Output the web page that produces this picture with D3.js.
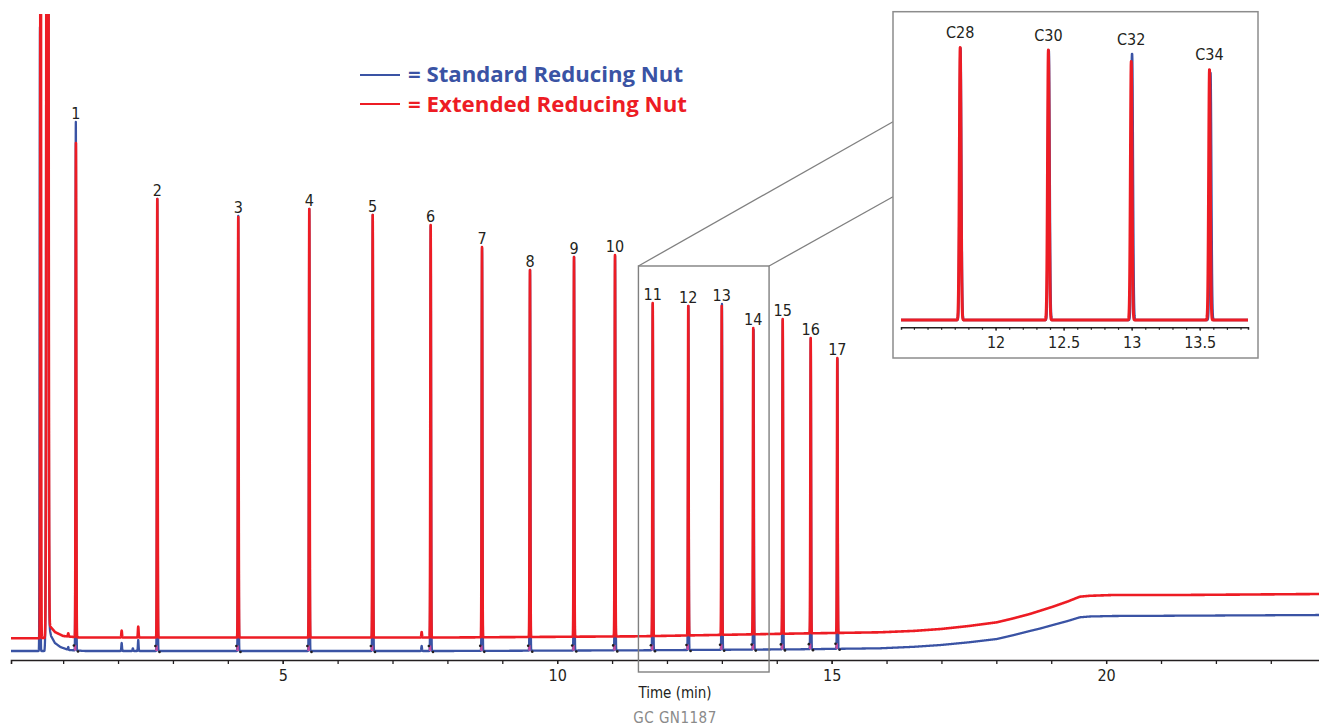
<!DOCTYPE html>
<html><head><meta charset="utf-8">
<script src="https://cdn.jsdelivr.net/npm/d3@7"></script>
<style>body{margin:0;background:#fff} svg{display:block}</style>
</head><body><svg id="c" width="1319" height="726"></svg>
<script>
// ---------------- data ----------------
const peakLabels = ["1","2","3","4","5","6","7","8","9","10","11","12","13","14","15","16","17"];
const redPeakTimes  = [1.233, 2.715, 4.190, 5.484, 6.639, 7.695, 8.630, 9.504, 10.306, 11.053, 11.740, 12.388, 12.997, 13.572, 14.108, 14.618, 15.103];
const bluePeakTimes = [1.231, 2.715, 4.190, 5.484, 6.641, 7.697, 8.632, 9.506, 10.308, 11.055, 11.742, 12.390, 13.002, 13.578, 14.110, 14.620, 15.105];
const redApex  = [51.7, 46.1, 44.3, 45.1, 44.5, 43.5, 41.3, 39.0, 40.3, 40.5, 35.7, 35.4, 35.4, 33.2, 34.1, 32.2, 30.2];
const blueApex = [53.8, 46.1, 44.4, 45.1, 44.5, 43.4, 41.2, 39.0, 40.3, 40.4, 35.6, 35.4, 35.6, 33.0, 34.0, 32.1, 30.1];

const solventTimes     = [0.590, 0.714];
const solventSigma     = [0.006, 0.012];
const redSolventApex   = [120, 300];
const blueSolventApex  = [63.3, 300];
const blueSolventTimes = [0.578, 0.712];

const redMinorTimes  = [1.093, 2.066, 2.368, 7.531];
const redMinorApex   = [2.67, 2.93, 3.33, 2.80];
const blueMinorTimes = [1.093, 2.066, 2.270, 2.368, 7.531];
const blueMinorApex  = [1.30, 1.70, 1.17, 2.00, 1.40];

const redBaseTimes  = [0.05, 0.50, 0.66, 0.76, 0.85, 1.00, 1.30, 5.0, 8.0, 11.5, 14.4, 15.88, 16.5, 16.99, 17.5, 18.01, 18.3, 18.61, 18.8, 19.03, 19.3, 19.52, 19.7, 20.13, 21.35, 23.9];
const redBaseValues = [2.17, 2.17, 2.20, 3.40, 2.80, 2.40, 2.25, 2.25, 2.25, 2.37, 2.65, 2.77, 2.91, 3.10, 3.40, 3.77, 4.15, 4.60, 4.93, 5.33, 5.85, 6.33, 6.42, 6.50, 6.50, 6.60];
const blueBaseTimes  = [0.05, 0.50, 0.66, 0.72, 0.78, 0.85, 0.95, 1.10, 1.40, 8.0, 11.5, 14.4, 15.88, 16.5, 16.99, 17.5, 18.01, 18.3, 18.61, 18.8, 19.03, 19.3, 19.52, 19.7, 20.13, 21.35, 23.9];
const blueBaseValues = [0.90, 0.90, 0.90, 4.00, 2.40, 1.70, 1.30, 1.00, 0.90, 0.90, 0.97, 1.07, 1.17, 1.32, 1.50, 1.77, 2.10, 2.47, 2.90, 3.15, 3.50, 3.90, 4.27, 4.35, 4.40, 4.43, 4.50];

const xMajorTicks = [5, 10, 15, 20];

const insetLabels      = ["C28", "C30", "C32", "C34"];
const insetRedTimes    = [11.740, 12.388, 12.997, 13.572];
const insetBlueTimes   = [11.742, 12.391, 13.003, 13.579];
const insetRedHeights  = [33.3, 33.0, 31.6, 30.6];
const insetBlueHeights = [33.2, 32.9, 32.5, 30.2];
const insetTicks = [12, 12.5, 13, 13.5];

const legendLabels = ["= Standard Reducing Nut", "= Extended Reducing Nut"];

// ---------------- drawing ----------------
const RED = "#ed1c24", BLUE = "#3a53a4", INK = "#231f20";
const svg = d3.select("#c");
const defs = svg.append("defs");

const x = d3.scaleLinear().domain([0.05, 23.9]).range([11, 1320.2]);
const y = d3.scaleLinear().domain([0, 65]).range([660, 10]);

const redBase  = d3.scaleLinear().domain(redBaseTimes).range(redBaseValues).clamp(true);
const blueBase = d3.scaleLinear().domain(blueBaseTimes).range(blueBaseValues).clamp(true);

function buildTrace(base, peaks, t0, t1, step) {
  let ts = d3.range(t0, t1, step);
  peaks.forEach(p => { const w = Math.min(p.s * 8, 0.06); for (let d = -w; d <= w; d += p.s / 6) ts.push(p.t + d); ts.push(p.t); });
  ts.push(t1);
  ts = ts.filter(t => t >= t0 && t <= t1).sort((a, b) => a - b);
  return ts.map(t => {
    let v = base(t);
    peaks.forEach(p => {
      const z = (t - p.t) / p.s;
      if (Math.abs(z) < 9) v += (p.a - base(p.t)) * Math.exp(-0.5 * z * z);
    });
    return [t, v];
  });
}
function peaksOf(times, apex, sig) { return times.map((t, i) => ({ t, a: apex[i], s: Array.isArray(sig) ? sig[i] : sig })); }

const SIG = 0.006;
const bluePeaks = [].concat(peaksOf(bluePeakTimes, blueApex, SIG), peaksOf(blueSolventTimes, blueSolventApex, solventSigma), peaksOf(blueMinorTimes, blueMinorApex, SIG));
const redPeaks  = [].concat(peaksOf(redPeakTimes, redApex, SIG), peaksOf(solventTimes, redSolventApex, solventSigma), peaksOf(redMinorTimes, redMinorApex, SIG));

defs.append("clipPath").attr("id", "mainClip").append("rect").attr("x", 11).attr("y", 14).attr("width", 1310).attr("height", 650);

const line = d3.line().x(d => x(d[0])).y(d => y(d[1])).curve(d3.curveLinear);
const gMain = svg.append("g").attr("clip-path", "url(#mainClip)");
gMain.append("path").attr("d", line(buildTrace(blueBase, bluePeaks, 0.05, 23.9, 0.004)))
  .attr("fill", "none").attr("stroke", BLUE).attr("stroke-width", 2.3).attr("stroke-linejoin", "round");

// integration markers on the blue trace
const mk = gMain.append("g");
bluePeakTimes.forEach(t => {
  const b = blueBase(t);
  mk.append("rect").attr("x", x(t - 0.035)).attr("y", y(b + 0.55)).attr("width", x(t + 0.01) - x(t - 0.035)).attr("height", y(b) - y(b + 0.55))
    .attr("fill", "#c54ca0");
  mk.append("circle").attr("cx", x(t - 0.035)).attr("cy", y(b + 0.5)).attr("r", 1.3).attr("fill", INK);
  mk.append("circle").attr("cx", x(t + 0.04)).attr("cy", y(b - 0.1)).attr("r", 1.3).attr("fill", INK);
});

gMain.append("path").attr("d", line(buildTrace(redBase, redPeaks, 0.05, 23.9, 0.004)))
  .attr("fill", "none").attr("stroke", RED).attr("stroke-width", 2.6).attr("stroke-linejoin", "round");

// main axis
const fontNarrow = "'Liberation Sans Narrow','DejaVu Sans Condensed',sans-serif";
const axMinor = d3.axisBottom(x).tickValues(d3.range(1, 24)).tickSize(4).tickFormat("");
const axMajor = d3.axisBottom(x).tickValues(xMajorTicks).tickSize(4).tickPadding(6).tickFormat(d3.format("d"));
const gAx = svg.append("g").attr("transform", `translate(0,${y(0)})`);
gAx.call(axMinor);
gAx.append("g").call(axMajor).select(".domain").remove();
gAx.selectAll(".domain").attr("stroke", INK).attr("stroke-width", 1.6);
gAx.selectAll(".tick line").attr("stroke", INK).attr("stroke-width", 1.3);
gAx.selectAll(".tick text").attr("fill", INK).attr("font-family", fontNarrow).attr("font-size", 16);

svg.append("text").attr("x", 675).attr("y", 698).attr("text-anchor", "middle")
  .attr("font-family", fontNarrow).attr("font-size", 15).attr("fill", INK).text("Time (min)");
svg.append("text").attr("x", 675).attr("y", 723).attr("text-anchor", "middle")
  .attr("font-family", fontNarrow).attr("font-size", 15).attr("fill", "#8a8a8a").attr("letter-spacing", 0.5).text("GC  GN1187");

// peak labels
svg.append("g").selectAll("text").data(peakLabels).join("text")
  .attr("x", (d, i) => x(redPeakTimes[i]))
  .attr("y", (d, i) => y(Math.max(redApex[i], blueApex[i])) - 9)
  .attr("dy", "0.35em").attr("text-anchor", "middle")
  .attr("font-family", fontNarrow).attr("font-size", 16).attr("fill", INK).text(d => d);

// legend
const leg = svg.append("g");
[[BLUE, 75, 81.5, 275], [RED, 104, 111.5, 279]].forEach((c, i) => {
  leg.append("line").attr("x1", 360).attr("x2", 400).attr("y1", c[1]).attr("y2", c[1]).attr("stroke", c[0]).attr("stroke-width", 2);
  leg.append("text").attr("x", 408).attr("y", c[2]).attr("font-family", "'Open Sans',Lato,sans-serif").attr("font-weight", 700)
    .attr("font-size", 21).attr("fill", c[0]).attr("textLength", c[3]).attr("lengthAdjust", "spacingAndGlyphs").text(legendLabels[i]);
});

// zoom box and connectors
const boxT = [11.48, 13.86], boxV = [-1.2, 39.4];
const GREY = "#808080";
svg.append("rect").attr("x", x(boxT[0])).attr("y", y(boxV[1])).attr("width", x(boxT[1]) - x(boxT[0])).attr("height", y(boxV[0]) - y(boxV[1]))
  .attr("fill", "none").attr("stroke", GREY).attr("stroke-width", 1.4);
const IX0 = 893, IY0 = 11.7, IW = 365, IH = 346.3;
svg.append("line").attr("x1", x(boxT[0])).attr("y1", y(boxV[1])).attr("x2", IX0).attr("y2", 121.7).attr("stroke", GREY).attr("stroke-width", 1.3);
svg.append("line").attr("x1", x(boxT[1])).attr("y1", y(boxV[1])).attr("x2", IX0).attr("y2", 196.7).attr("stroke", GREY).attr("stroke-width", 1.3);

// inset
svg.append("rect").attr("x", IX0).attr("y", IY0).attr("width", IW).attr("height", IH).attr("fill", "#fff").attr("stroke", "#8c8c8c").attr("stroke-width", 1.5);
const xi = d3.scaleLinear().domain([11.305, 13.855]).range([901, 1248]);
const yi = d3.scaleLinear().domain([0, 36]).range([320, 25.5]);
defs.append("clipPath").attr("id", "insetClip").append("rect").attr("x", 901).attr("y", IY0 + 1).attr("width", 347).attr("height", IH - 2);
const zero = () => 0;
const lineI = d3.line().x(d => xi(d[0])).y(d => yi(d[1]));
const gIn = svg.append("g").attr("clip-path", "url(#insetClip)");
gIn.append("path").attr("d", lineI(buildTrace(zero, peaksOf(insetBlueTimes, insetBlueHeights, SIG), 11.305, 13.855, 0.002)))
  .attr("fill", "none").attr("stroke", BLUE).attr("stroke-width", 2.6).attr("stroke-linejoin", "round");
gIn.append("path").attr("d", lineI(buildTrace(zero, peaksOf(insetRedTimes, insetRedHeights, SIG), 11.305, 13.855, 0.002)))
  .attr("fill", "none").attr("stroke", RED).attr("stroke-width", 3).attr("stroke-linejoin", "round");

const gIax = svg.append("g").attr("transform", "translate(0,327.3)");
gIax.call(d3.axisBottom(xi).tickValues(d3.range(11.4, 13.85, 0.1)).tickSize(2.5).tickFormat(""));
gIax.append("g").call(d3.axisBottom(xi).tickValues(insetTicks).tickSize(3.5).tickPadding(6).tickFormat(d3.format("~g"))).select(".domain").remove();
gIax.selectAll(".domain").attr("stroke", INK).attr("stroke-width", 1.5);
gIax.selectAll(".tick line").attr("stroke", INK).attr("stroke-width", 1.2);
gIax.selectAll(".tick text").attr("fill", INK).attr("font-family", fontNarrow).attr("font-size", 16);

svg.append("g").selectAll("text").data(insetLabels).join("text")
  .attr("x", (d, i) => xi(insetRedTimes[i]))
  .attr("y", (d, i) => yi(Math.max(insetRedHeights[i], insetBlueHeights[i])) - 15)
  .attr("dy", "0.35em").attr("text-anchor", "middle")
  .attr("font-family", fontNarrow).attr("font-size", 16).attr("fill", INK).text(d => d);
</script></body></html>
